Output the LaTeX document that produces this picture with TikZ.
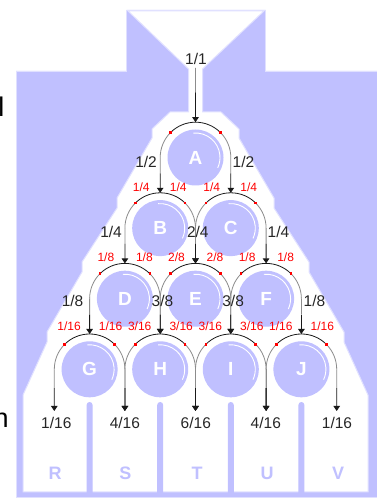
\documentclass[tikz,border=0pt]{standalone}
\usepackage{fontspec}
\setmainfont{Liberation Sans}
\usetikzlibrary{arrows.meta,calc}
\definecolor{lav}{RGB}{192,192,255}
\definecolor{lavedge}{RGB}{224,224,255}
\newcommand\myconn[2]{%
  \draw[grayline] (#1) -- ($(#1)!0.45!(#2)$);
  \draw[darkline,arr] ($(#1)!0.45!(#2)$) -- (#2);}
\begin{document}
\begin{tikzpicture}[x=1pt,y=1pt,
  grayline/.style={draw=black!45, line width=0.8pt},
  darkline/.style={draw=black!90, line width=0.8pt},
  arr/.style={-{Triangle[width=6.5pt,length=5pt]}},
  lbl/.style={font=\fontsize{15.5}{16}\selectfont, text=black!85, inner sep=0pt},
  rlbl/.style={font=\fontsize{12}{12}\selectfont, text=red, inner sep=0pt},
  letter/.style={font=\fontsize{19}{19}\selectfont\bfseries, text=white, inner sep=0pt},
  binl/.style={font=\fontsize{18}{18}\selectfont\bfseries, text=lav, inner sep=0pt},
  frag/.style={font=\fontsize{27}{27}\selectfont, text=black, inner sep=0pt, anchor=base east},
  hl/.style={draw=white, line width=0.9pt}]
\useasboundingbox (0,0) rectangle (376,498);
\fill[white] (0,0) rectangle (376,498);
% lavender board
\fill[lav, draw=lavedge, line width=0.8pt] (16,1) -- (16,427) -- (126.5,427) -- (126.5,488) -- (265.5,488) -- (265.5,427) -- (377,427) -- (377,1) -- cycle;
% white channel
\fill[white, draw=lavedge, line width=1pt]
 (128,487) -- (264,487) -- (202.5,429) -- (202.5,386) -- (221,386) -- (239,369) -- (239,360)
 -- (274,300) -- (274,290) -- (309,236) -- (309,226) -- (344,166) -- (344,156) -- (368,103)
 -- (368,6) -- (23,6) -- (23,103) -- (47,156) -- (47,166) -- (82,226) -- (82,236)
 -- (117,290) -- (117,300) -- (152,360) -- (152,369) -- (170,386) -- (188.5,386) -- (188.5,429) -- cycle;
% bin dividers
\foreach \x in {89.6,160.2,230.8,301.4}
  \fill[lav] (\x-3,5) -- (\x-3,93) arc[start angle=180,end angle=0,radius=3] -- (\x+3,5) -- cycle;
% pegs and arcs
\foreach \n/\x/\y in {A/195.5/340.5, B/160.2/269.9, C/230.8/269.9,
   D/124.9/199.3, E/195.5/199.3, F/266.1/199.3,
   G/89.6/128.7, H/160.2/128.7, I/230.8/128.7, J/301.4/128.7}{
  \fill[lav] (\x,\y) circle[radius=28];
  \draw[hl] ($(\x,\y)+(95:24.5)$) arc[start angle=95,end angle=-25,radius=24.5];
  \node[letter] (\n) at (\x,\y) {\n};
  \coordinate (\n-t) at (\x,\y+35.3);
  \coordinate (\n-l) at (\x-35.3,\y);
  \coordinate (\n-r) at (\x+35.3,\y);
  \coordinate (\n-a) at ($(\x,\y)+(135:35.3)$);
  \coordinate (\n-b) at ($(\x,\y)+(45:35.3)$);
  \draw[grayline] (\n-l) arc[start angle=180,end angle=135,radius=35.3];
  \draw[darkline] (\n-a) arc[start angle=135,end angle=45,radius=35.3];
  \draw[grayline] (\n-b) arc[start angle=45,end angle=0,radius=35.3];
}
% bins
\foreach \n/\x/\lx in {R/54.3/55, S/124.9/125.5, T/195.5/197, U/266.1/267, V/336.7/338}{
  \coordinate (\n-t) at (\x,87);
  \node[binl] (\n) at (\lx,25) {\n};
}
\coordinate (src) at (195.5,430);
% connectors
\myconn{src}{A-t}
\myconn{A-l}{B-t}\myconn{A-r}{C-t}
\myconn{B-l}{D-t}\myconn{B-r}{E-t}\myconn{C-l}{E-t}\myconn{C-r}{F-t}
\myconn{D-l}{G-t}\myconn{D-r}{H-t}\myconn{E-l}{H-t}\myconn{E-r}{I-t}\myconn{F-l}{I-t}\myconn{F-r}{J-t}
\myconn{G-l}{R-t}\myconn{G-r}{S-t}\myconn{H-l}{S-t}\myconn{H-r}{T-t}
\myconn{I-l}{T-t}\myconn{I-r}{U-t}\myconn{J-l}{U-t}\myconn{J-r}{V-t}
% red markers
\foreach \n in {A,B,C,D,E,F,G,H,I,J}{
  \fill[red] ($(\n-a)+(-1.3,-1.3)$) rectangle ($(\n-a)+(1.3,1.3)$);
  \fill[red] ($(\n-b)+(-1.3,-1.3)$) rectangle ($(\n-b)+(1.3,1.3)$);
}
% black flow labels
\node[lbl] (l11) at (196,439.5) {1/1};
\node[lbl, anchor=east] (l21) at (157,336) {1/2};
\node[lbl, anchor=west] (l22) at (232.5,336) {1/2};
\node[lbl, anchor=east] (l31) at (122,266.3) {1/4};
\node[lbl] (l32) at (197.8,266.3) {2/4};
\node[lbl, anchor=west] (l33) at (267.5,266.3) {1/4};
\node[lbl, anchor=east] (l41) at (83.5,197.3) {1/8};
\node[lbl] (l42) at (162.5,197.3) {3/8};
\node[lbl] (l43) at (233.1,197.3) {3/8};
\node[lbl, anchor=west] (l44) at (303.5,197.3) {1/8};
% red labels
\foreach \i/\x/\y/\t in {1/141.2/311/1\slash4, 2/178.2/311/1\slash4, 3/211.8/311/1\slash4, 4/248.8/311/1\slash4,
   5/105.9/241/1\slash8, 6/144.4/241/1\slash8, 7/176.5/241/2\slash8, 8/215/241/2\slash8, 9/247.1/241/1\slash8, 10/285.6/241/1\slash8,
   11/69.1/171.3/1\slash16, 12/110.6/171.3/1\slash16, 13/139.7/171.3/3\slash16, 14/181.2/171.3/3\slash16,
   15/210.3/171.3/3\slash16, 16/251.8/171.3/3\slash16, 17/280.9/171.3/1\slash16, 18/322.4/171.3/1\slash16}{
  \node[rlbl] (r\i) at (\x,\y) {\t};
}
% bin values
\node[lbl] (b1) at (56.3,75) {1/16};
\node[lbl] (b2) at (124.9,75) {4/16};
\node[lbl] (b3) at (195.8,75) {6/16};
\node[lbl] (b4) at (265.8,75) {4/16};
\node[lbl] (b5) at (337,75) {1/16};
% cut-off text at left edge
\node[frag] (f1) at (4.5,381.5) {l};
\node[frag] (f2) at (8.8,70.5) {n};
\end{tikzpicture}
\end{document}
